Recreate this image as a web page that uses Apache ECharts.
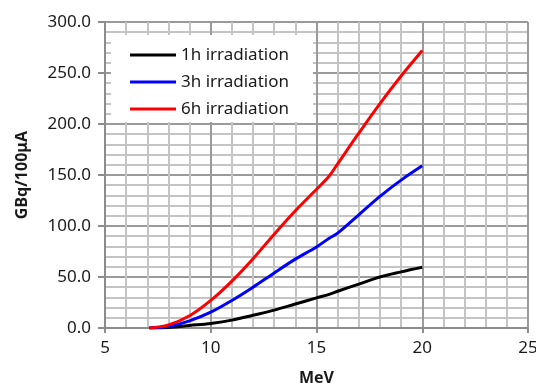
<!DOCTYPE html>
<html>
<head>
<meta charset="utf-8">
<script src="https://cdn.jsdelivr.net/npm/echarts@6/dist/echarts.min.js"></script>
<style>
  html, body { margin: 0; padding: 0; background: #fff; }
  #chart { width: 536px; height: 385px; }
</style>
</head>
<body>
<div id="chart"></div>
<script>
// energies (MeV) and activity (GBq/100uA)
const mev = [7.1, 8, 9, 10, 11, 12, 13, 14, 15, 15.6, 16, 17, 18, 19, 20]
const oneHour = [0, 0.5, 2.5, 4.5, 7.7, 12.5, 17.5, 23.5, 29.5, 33, 36, 43, 50, 55, 59.5]
const threeHour = [0, 1.5, 7, 15.5, 27, 40, 54, 67.5, 79.5, 88, 93, 111, 129, 145, 159]
const sixHour = [0, 3, 12, 27, 46, 68, 92, 115, 136, 149, 161, 191, 220, 247, 272]
const seriesNames = ['1h irradiation', '3h irradiation', '6h irradiation']
const xTicks = [5, 10, 15, 20, 25]
const yTicks = [0, 50, 100, 150, 200, 250, 300]

const font = 'Noto Sans'

function pairs(values) {
  return mev.map((x, i) => [x, values[i]])
}

const chart = echarts.init(document.getElementById('chart'))

const option = {
  animation: false,
  grid: { left: 105, right: 8, top: 22, bottom: 57, containLabel: false, outerBoundsMode: 'none' },
  legend: {
    orient: 'vertical',
    left: 111,
    top: 35,
    padding: [11, 24, 4, 19],
    backgroundColor: '#fff',
    itemWidth: 46,
    itemHeight: 14,
    itemGap: 9,
    data: seriesNames.map(n => ({ name: n, icon: 'path://M0,6H46V9H0Z' })),
    textStyle: { fontFamily: font, fontSize: 17, color: '#1a1a1a', lineHeight: 18 }
  },
  xAxis: {
    type: 'value',
    min: xTicks[0],
    max: xTicks[xTicks.length - 1],
    interval: 5,
    name: 'MeV',
    nameLocation: 'middle',
    nameGap: 42,
    nameTextStyle: { fontFamily: font, fontSize: 16, fontWeight: 'bold', color: '#1a1a1a' },
    axisLine: { show: true, lineStyle: { color: '#8c8c8c', width: 2 } },
    axisTick: { show: true, length: 5, lineStyle: { color: '#8c8c8c', width: 2 } },
    axisLabel: { fontFamily: font, fontSize: 17, color: '#1a1a1a', margin: 12 },
    splitLine: { show: true, lineStyle: { color: '#9a9a9a', width: 2 } },
    minorTick: { show: false, splitNumber: 5 },
    minorSplitLine: { show: true, lineStyle: { color: '#c4c4c4', width: 2 } }
  },
  yAxis: {
    type: 'value',
    min: yTicks[0],
    max: yTicks[yTicks.length - 1],
    interval: 50,
    name: 'GBq/100μA',
    nameLocation: 'middle',
    nameGap: 75,
    nameTextStyle: { fontFamily: font, fontSize: 16, fontWeight: 'bold', color: '#1a1a1a' },
    axisLine: { show: true, lineStyle: { color: '#8c8c8c', width: 2 } },
    axisTick: { show: true, length: 7, lineStyle: { color: '#8c8c8c', width: 2 } },
    axisLabel: {
      fontFamily: font, fontSize: 17, color: '#1a1a1a', margin: 14,
      formatter: v => v.toFixed(1)
    },
    splitLine: { show: true, lineStyle: { color: '#9a9a9a', width: 2 } },
    minorTick: { show: false, splitNumber: 5 },
    minorSplitLine: { show: true, lineStyle: { color: '#c4c4c4', width: 2 } }
  },
  series: [
    { name: seriesNames[0], type: 'line', data: pairs(oneHour), color: '#000000' },
    { name: seriesNames[1], type: 'line', data: pairs(threeHour), color: '#0000ff' },
    { name: seriesNames[2], type: 'line', data: pairs(sixHour), color: '#ff0000' }
  ].map(s => Object.assign(s, {
    showSymbol: false,
    smooth: 0.35,
    lineStyle: { width: 3, color: s.color }
  }))
}

chart.setOption(option)
</script>
</body>
</html>
